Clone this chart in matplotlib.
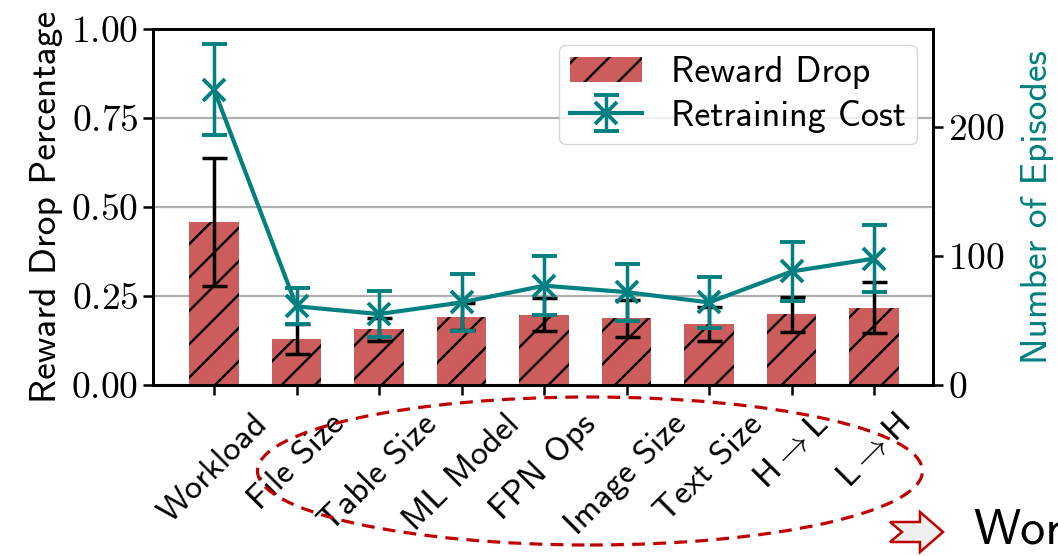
import numpy as np
import matplotlib
matplotlib.use("Agg")
import matplotlib.pyplot as plt
from matplotlib.patches import Ellipse, Polygon

# ---------- dati ----------
categories = ["Workload", "File Size", "Table Size", "ML Model", "FPN Ops",
              "Image Size", "Text Size", r"H$\rightarrow$L", r"L$\rightarrow$H"]
reward_drop = [0.457, 0.128, 0.156, 0.192, 0.197, 0.187, 0.171, 0.199, 0.217]
reward_err = [0.180, 0.042, 0.033, 0.038, 0.046, 0.051, 0.048, 0.049, 0.071]
episodes = [229, 61, 55, 64, 77, 72, 64, 88, 98]
episodes_err = [35, 14, 18, 22, 23, 22, 20, 23, 26]
left_ticks = [0.0, 0.25, 0.5, 0.75, 1.0]
right_ticks = [0, 100, 200]

RED = "#CD5C5C"; TEAL = "#008080"; DRED = "#C00000"
SANS = ["cmss10", "DejaVu Sans"]
plt.rcParams.update({"mathtext.fontset": "cm", "font.size": 27,
                     "font.family": SANS, "axes.linewidth": 2.0,
                     "hatch.linewidth": 1.7, "axes.formatter.use_mathtext": True})

fig = plt.figure(figsize=(10.58, 5.56), dpi=100)
ax = fig.add_axes([153/1058, 1-385/556, 780/1058, 356/556])
x = np.arange(len(categories))

ax.bar(x, reward_drop, width=0.6, color=RED, hatch="/", edgecolor="black",
       linewidth=0, zorder=2)
ax.errorbar(x, reward_drop, yerr=reward_err, fmt="none", ecolor="black",
            elinewidth=2.5, capsize=9, capthick=2.5, zorder=3)
ax.set_xlim(-0.74, 8.715)
ax.set_ylim(0, 1)
ax.set_yticks(left_ticks)
ax.set_yticklabels([r"$%.2f$" % v for v in left_ticks])
ax.set_xticks(x)
ax.set_xticklabels(categories, rotation=45, fontsize=25)
ax.yaxis.grid(True, color="#b0b0b0", lw=1.6)
ax.set_axisbelow(True)
ax.tick_params(length=7, width=1.8)
ax.tick_params(axis="x", pad=10)
ax.set_ylabel("Reward Drop Percentage", labelpad=6)

ax2 = ax.twinx()
ax2.errorbar(x, episodes, yerr=episodes_err, color=TEAL, lw=3, marker="x",
             ms=16, mew=2.8, elinewidth=2.5, capsize=9, capthick=2.5)
ax2.set_ylim(0, 276)
ax2.set_yticks(right_ticks)
ax2.set_yticklabels([r"$%d$" % v for v in right_ticks])
ax2.tick_params(length=7, width=1.8)
ax2.set_ylabel("Number of Episodes", color=TEAL, labelpad=12)

bar_h = ax.patches[0]
line_h = ax2.containers[0]
ax2.legend([bar_h, line_h], ["Reward Drop", "Retraining Cost"], fontsize=26,
           loc="upper right", borderaxespad=0.45, handlelength=2.0,
           fancybox=True, borderpad=0.3, labelspacing=0.3)

# ellisse tratteggiata attorno alle feature + freccia
ell = Ellipse((590/1058, 1-471/556), 665/1058, 148/556, transform=fig.transFigure,
              fill=False, edgecolor=DRED, lw=2.3, ls=(0, (4, 2.6)))
fig.add_artist(ell)
arrow_px = [(890, 522), (920, 522), (920, 512), (943, 532), (920, 552),
            (920, 542), (890, 542), (902, 532)]
arr = Polygon([(px/1058, 1-py/556) for px, py in arrow_px], closed=True,
              transform=fig.transFigure, facecolor="#f0f0f0", edgecolor=DRED, lw=1.8)
fig.add_artist(arr)
fig.text(973/1058, 1-531/556, "Workload", fontsize=36, va="center", ha="left")

fig.savefig("out.png", dpi=100)
